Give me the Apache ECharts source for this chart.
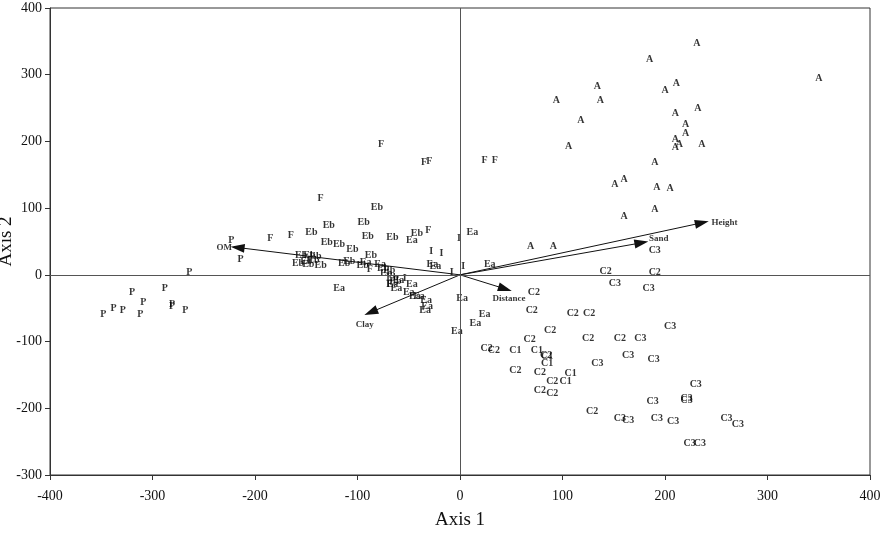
<!DOCTYPE html>
<html><head><meta charset="utf-8">
<script src="https://cdn.jsdelivr.net/npm/echarts@6/dist/echarts.min.js"></script>
<style>html,body{margin:0;padding:0;background:#fff}#c{width:894px;height:537px}</style>
</head><body><div id="c"></div>
<script>
const xTicks = [-400,-300,-200,-100,0,100,200,300,400];
const yTicks = [-300,-200,-100,0,100,200,300,400];

const ptsA = [[231,347],[185,323],[350,295],[134,283],[211,287],[200,276],[94,261],[137,261],[232,249],[210,242],[118,231],[220,226],[220,212],[210,203],[106,192],[210,191],[214,195],[236,195],[190,169],[151,135],[160,143],[192,131],[205,129],[190,98],[160,87],[69,42],[91,42]];
const ptsF = [[-77,196],[-35,168],[-30,170],[24,171],[34,172],[-136,115],[-185,55],[-165,59],[-31,66],[-88,8],[-69,-15]];
const ptsEb = [[-81,101],[-128,74],[-94,79],[-145,64],[-90,57],[-66,56],[-42,62],[-130,49],[-118,45],[-105,38],[-87,29],[-155,29],[-147,29],[-141,28],[-158,17],[-148,15],[-136,14],[-150,20],[-143,22],[-113,17],[-108,20],[-95,14],[-75,10],[-69,6],[-72,2],[-66,-4],[-63,-10]];
const ptsEa = [[-47,51],[12,63],[-118,-21],[29,15],[2,-36],[24,-60],[15,-73],[-3,-85],[-27,15],[-24,12],[-92,19],[-62,-20],[-47,-15],[-50,-27],[-44,-33],[-40,-32],[-33,-39],[-32,-47],[-34,-53],[-66,-15],[-60,-8],[-78,15]];
const ptsI = [[-1,55],[-28,35],[-18,32],[3,12],[-8,3],[-54,-6]];
const ptsP = [[-223,51],[-214,23],[-264,3],[-320,-26],[-288,-21],[-309,-41],[-281,-45],[-281,-48],[-268,-54],[-338,-51],[-329,-54],[-348,-59],[-312,-60]];
const ptsC1 = [[54,-113],[75,-113],[85,-123],[85,-133],[108,-147],[103,-159]];
const ptsC2 = [[142,5],[190,3],[72,-26],[70,-54],[110,-58],[126,-58],[88,-84],[68,-97],[125,-96],[156,-96],[26,-110],[33,-114],[54,-143],[78,-146],[90,-159],[78,-173],[90,-178],[129,-205],[84,-121]];
const ptsC3 = [[190,37],[151,-13],[184,-21],[205,-78],[176,-96],[164,-121],[189,-127],[134,-133],[230,-164],[188,-190],[221,-185],[221,-188],[156,-215],[164,-218],[192,-215],[208,-219],[260,-215],[271,-224],[224,-253],[234,-253]];

const vecNames = ['OM','Height','Sand','Distance','Clay'];
const vecEnds = [[-217,41],[236,78],[177,48],[44,-21],[-87,-56]];

const groups = [['A',ptsA],['F',ptsF],['Eb',ptsEb],['Ea',ptsEa],['I',ptsI],['P',ptsP],['C1',ptsC1],['C2',ptsC2],['C3',ptsC3]];
const FONT = '"Liberation Serif", "DejaVu Serif", serif';

const labelPos = {OM:['left',[0,0]],Height:['right',[4,0]],Sand:['right',[2,-4]],Distance:['bottom',[4,0]],Clay:['bottom',[-6,2]]};

const series = groups.map(([name,pts]) => ({
  type:'scatter', name, data:pts, symbolSize:1, itemStyle:{color:'rgba(0,0,0,0)'},
  label:{show:true, position:'inside', formatter:name, color:'#000', fontFamily:FONT, fontWeight:'bold', fontSize:10},
  silent:true, z:3
}));

series.push({
  type:'lines', coordinateSystem:'cartesian2d',
  data: vecEnds.map(e => ({coords:[[0,0],e]})),
  symbol:['none','triangle'], symbolSize:[0,[9,14]],
  lineStyle:{color:'#111', width:1, opacity:1}, silent:true, z:4
});
series.push({
  type:'scatter', data: vecEnds.map((e,i)=>({value:e, name:vecNames[i], label:{position:labelPos[vecNames[i]][0], offset:labelPos[vecNames[i]][1]}})),
  symbolSize:1, itemStyle:{color:'rgba(0,0,0,0)'},
  label:{show:true, formatter:p=>p.name, color:'#000', fontFamily:FONT, fontWeight:'bold', fontSize:9},
  silent:true, z:4,
  markLine:{silent:true, symbol:'none', label:{show:false}, lineStyle:{color:'#555', type:'solid', width:1},
    data:[{xAxis:0},{yAxis:0}]}
});

const chart = echarts.init(document.getElementById('c'));
chart.setOption({
  animation:false,
  grid:{left:50, right:24, top:8, bottom:62, show:true, borderColor:'#333', borderWidth:1, containLabel:false, outerBoundsMode:'none'},
  xAxis:{type:'value', min:xTicks[0], max:xTicks[xTicks.length-1], interval:100,
    name:'Axis 1', nameLocation:'middle', nameGap:36, nameTextStyle:{fontFamily:FONT, fontSize:19, color:'#111'},
    axisLine:{onZero:false, lineStyle:{color:'#333'}}, axisTick:{show:true, length:5, lineStyle:{color:'#333'}},
    axisLabel:{fontFamily:FONT, fontSize:14, color:'#111', margin:14}, splitLine:{show:false}},
  yAxis:{type:'value', min:yTicks[0], max:yTicks[yTicks.length-1], interval:100,
    name:'Axis 2', nameLocation:'middle', nameGap:34, nameMoveOverlap:false, nameRotate:90, nameTextStyle:{fontFamily:FONT, fontSize:19, color:'#111'},
    axisLine:{onZero:false, lineStyle:{color:'#333'}}, axisTick:{show:true, length:5, lineStyle:{color:'#333'}},
    axisLabel:{fontFamily:FONT, fontSize:14, color:'#111', margin:8}, splitLine:{show:false}},
  series
});
</script></body></html>
